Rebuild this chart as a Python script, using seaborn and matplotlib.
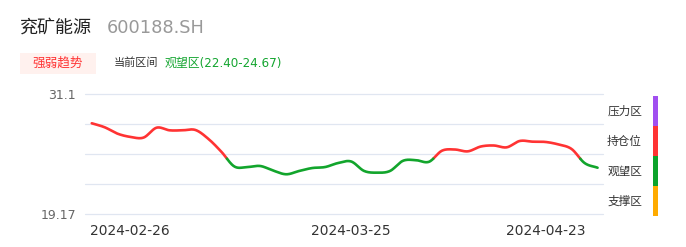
import numpy as np
import pandas as pd
import matplotlib
matplotlib.use("Agg")
import matplotlib.pyplot as plt
import seaborn as sns
from matplotlib.patches import Rectangle
from matplotlib.transforms import ScaledTranslation

# ---------------- data ----------------
stock_name = "兖矿能源"
stock_code = "600188.SH"
holidays = ["2024-04-04", "2024-04-05"]
dates = [d.strftime("%Y-%m-%d") for d in pd.bdate_range("2024-02-26", "2024-04-23")
         if d.strftime("%Y-%m-%d") not in holidays]
prices = [28.19, 27.79, 27.15, 26.83, 26.77, 27.75, 27.49, 27.49, 27.52, 26.63,
          25.35, 23.89, 23.84, 23.94, 23.48, 23.12, 23.45, 23.74, 23.84, 24.24,
          24.39, 23.45, 23.28, 23.45, 24.46, 24.52, 24.36, 25.46, 25.58, 25.40,
          25.88, 25.98, 25.80, 26.43, 26.36, 26.33, 26.08, 25.63, 24.24, 23.77]
watch_low, watch_high = 22.40, 24.67
y_min, y_max = 19.17, 31.1
y_tick_labels = ["19.17", "", "", "", "31.1"]
x_tick_dates = ["2024-02-26", "2024-03-25", "2024-04-23"]
zone_names = ["压力区", "持仓位", "观望区", "支撑区"]
zone_colors = ["#a14ff0", "#ff3333", "#0ca32b", "#ffab00"]
RED, GREEN = "#ff3333", "#12a52c"

# ---------------- style ----------------
sns.set_theme(style="white")
plt.rcParams["font.family"] = ["DejaVu Sans", "Noto Sans CJK SC"]

W, H = 686, 247
fig = plt.figure(figsize=(W / 100, H / 100), dpi=100)

def fx(px):
    return px / W

def fy(py):
    return 1 - py / H

ax = fig.add_axes([fx(85), fy(214), fx(603) - fx(85), fy(94) - fy(214)])

# smooth rendering of the series (cubic Hermite, like a smoothed web chart line)
xi = np.arange(len(prices), dtype=float)
yi = np.array(prices, dtype=float)
m = np.gradient(yi)
xs, ys = [], []
for i in range(len(xi) - 1):
    t = np.linspace(0, 1, 25, endpoint=False)
    h00 = 2 * t**3 - 3 * t**2 + 1
    h10 = t**3 - 2 * t**2 + t
    h01 = -2 * t**3 + 3 * t**2
    h11 = t**3 - t**2
    xs.extend(xi[i] + t)
    ys.extend(h00 * yi[i] + h10 * m[i] + h01 * yi[i + 1] + h11 * m[i + 1])
xs.append(xi[-1]); ys.append(yi[-1])
xs = np.array(xs); ys = np.array(ys)

# split into colored runs at the threshold
rows = []
run = 0
cur_zone = "hold" if ys[0] > watch_high else "watch"
rows.append((xs[0], ys[0], run, cur_zone))
for k in range(1, len(xs)):
    z = "hold" if ys[k] > watch_high else "watch"
    if z != cur_zone:
        f = (watch_high - ys[k - 1]) / (ys[k] - ys[k - 1])
        xc = xs[k - 1] + f * (xs[k] - xs[k - 1])
        rows.append((xc, watch_high, run, cur_zone))
        run += 1
        cur_zone = z
        rows.append((xc, watch_high, run, cur_zone))
    rows.append((xs[k], ys[k], run, cur_zone))
df = pd.DataFrame(rows, columns=["x", "y", "run", "zone"])

sns.lineplot(data=df, x="x", y="y", hue="zone", units="run", estimator=None,
             sort=False, palette={"hold": RED, "watch": GREEN}, linewidth=1.9,
             legend=False, ax=ax)

ax.set_xlim(-0.52, 39.42)
ax.set_ylim(y_min, y_max)
ax.set_yticks(np.linspace(y_min, y_max, 5))
ax.set_yticklabels(y_tick_labels, color="#666666", fontsize=9)
ax.grid(axis="y", color="#e0e6f1", linewidth=0.9)
ax.grid(axis="x", visible=False)
ax.set_axisbelow(True)
for gl in ax.get_ygridlines():
    gl.set_clip_on(False)
ax.set_xticks([dates.index(d) for d in x_tick_dates])
ax.set_xticklabels(x_tick_dates, color="#333333", fontsize=9.9)
ax.tick_params(axis="both", length=0)
ax.tick_params(axis="x", pad=7)
ax.tick_params(axis="y", pad=6.5)
labs = ax.get_xticklabels()
labs[0].set_ha("left")
labs[0].set_transform(labs[0].get_transform() + ScaledTranslation(-1.5 / 100, 0, fig.dpi_scale_trans))
labs[2].set_ha("right")
labs[2].set_transform(labs[2].get_transform() + ScaledTranslation(-12.5 / 100, 0, fig.dpi_scale_trans))
ax.set_xlabel("")
ax.set_ylabel("")
for s in ax.spines.values():
    s.set_visible(False)

# ---------------- header ----------------
fig.text(fx(20), fy(28), stock_name, fontsize=13, color="#222222", va="center", ha="left")
fig.text(fx(107), fy(28), stock_code, fontsize=12.8, color="#999999", va="center", ha="left")

fig.patches.append(Rectangle((fx(20), fy(74)), fx(96) - fx(20), fy(53) - fy(74),
                             transform=fig.transFigure, facecolor="#fff1ee", edgecolor="none"))
fig.text(fx(58), fy(63), "强弱趋势", fontsize=9.1, color="#ff3333", va="center", ha="center")
fig.text(fx(114), fy(63), "当前区间", fontsize=8.0, color="#333333", va="center", ha="left")
fig.text(fx(165), fy(63), f"观望区({watch_low:.2f}-{watch_high:.2f})", fontsize=8.6,
         color="#13a52f", va="center", ha="left")

# ---------------- right zone legend ----------------
top = 96
for i, (name, col) in enumerate(zip(zone_names, zone_colors)):
    y0 = top + i * 30
    fig.patches.append(Rectangle((fx(653), fy(y0 + 30)), fx(5.3), fy(y0) - fy(y0 + 30),
                                 transform=fig.transFigure, facecolor=col, edgecolor="none"))
    fig.text(fx(642), fy(y0 + 15), name, fontsize=8.4, color="#333333", va="center", ha="right")

fig.savefig("out.png", dpi=100)
